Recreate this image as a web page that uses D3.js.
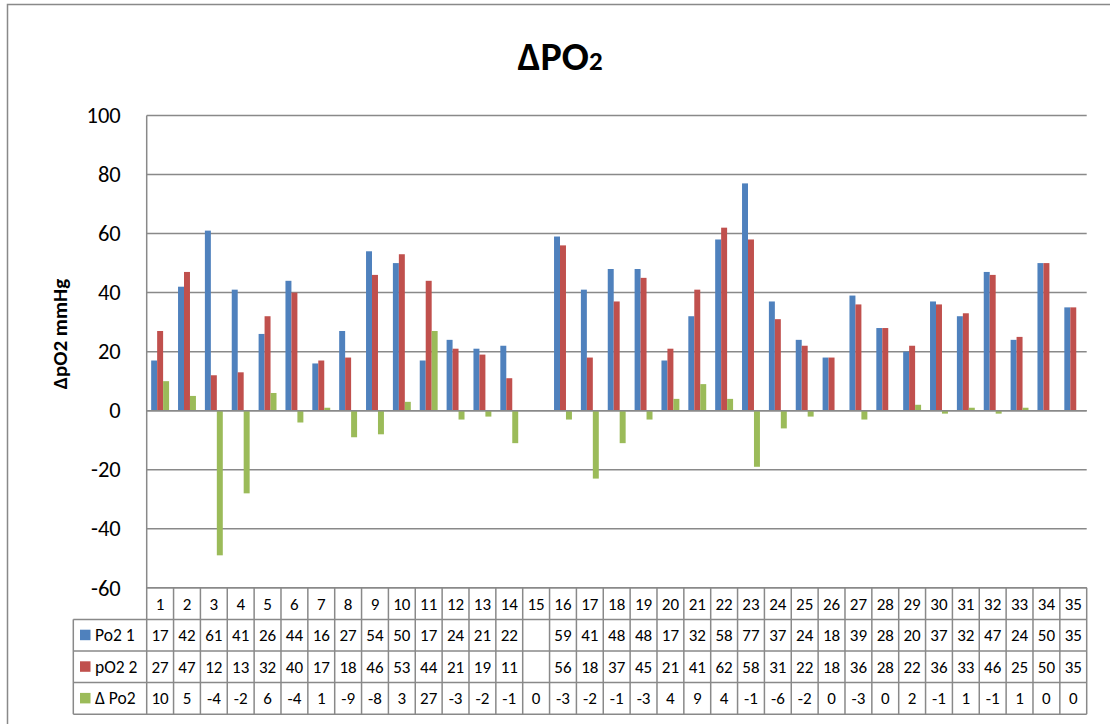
<!DOCTYPE html>
<html>
<head>
<meta charset="utf-8">
<script src="https://cdn.jsdelivr.net/npm/d3@7"></script>
<style>
  body { margin: 0; background: #fff; }
  text { font-family: Carlito, Lato, "Liberation Sans", sans-serif; fill: #000; }
</style>
</head>
<body>
<svg id="chart"></svg>
<script>
// data
let categories = d3.range(1, 36).map(String);
let seriesNames = ["Po2 1", "pO2 2", "Δ Po2"];
let seriesColors = ["#4F81BD", "#C0504D", "#9BBB59"];
let po2First = [17, 42, 61, 41, 26, 44, 16, 27, 54, 50, 17, 24, 21, 22, null, 59, 41, 48, 48, 17, 32, 58, 77, 37, 24, 18, 39, 28, 20, 37, 32, 47, 24, 50, 35];
let po2Second = [27, 47, 12, 13, 32, 40, 17, 18, 46, 53, 44, 21, 19, 11, null, 56, 18, 37, 45, 21, 41, 62, 58, 31, 22, 18, 36, 28, 22, 36, 33, 46, 25, 50, 35];
let deltaPo2 = [10, 5, -49, -28, 6, -4, 1, -9, -8, 3, 27, -3, -2, -11, 0, -3, -23, -11, -3, 4, 9, 4, -19, -6, -2, 0, -3, 0, 2, -1, 1, -1, 1, 0, 0];
let yTicks = [-60, -40, -20, 0, 20, 40, 60, 80, 100];

let seriesValues = [po2First, po2Second, deltaPo2];

let width = 1110,
    height = 724,
    plotLeft = 146.7,
    plotRight = 1086.7,
    plotTop = 115.5,
    plotBottom = 587.8,
    rowH = 31.6,
    legendLeft = 73.3,
    gridColor = "#898989";

let svg = d3.select("#chart").attr("width", width).attr("height", height);

// outer chart border
svg.append("rect")
    .attr("x", 7.5).attr("y", 4.5)
    .attr("width", 1200).attr("height", 1000)
    .attr("fill", "none").attr("stroke", gridColor).attr("stroke-width", 1.5);

let x0 = d3.scaleBand().domain(categories).range([plotLeft, plotRight]).padding(0);
let x1 = d3.scaleBand().domain(seriesNames).range([0, x0.bandwidth()])
    .paddingInner(0).paddingOuter(0.75);
let y = d3.scaleLinear().domain([-60, 100]).range([plotBottom, plotTop]);

// gridlines
svg.append("g")
    .selectAll("line")
    .data(yTicks)
    .enter().append("line")
    .attr("x1", plotLeft).attr("x2", plotRight)
    .attr("y1", d => y(d)).attr("y2", d => y(d))
    .attr("stroke", gridColor).attr("stroke-width", 1.5);

// y axis tick labels (plain hyphen minus, like Excel)
let yAxis = d3.axisLeft(y).tickValues(yTicks).tickSize(0).tickPadding(26)
    .tickFormat(d => String(d));
let yg = svg.append("g").attr("transform", "translate(" + plotLeft + ",0)").call(yAxis);
yg.select(".domain").remove();
yg.selectAll("text")
    .attr("font-size", 22.5)
    .style("font-family", "Carlito, Lato, 'Liberation Sans', sans-serif")
    .attr("fill", "#000");

// bars
let groups = svg.append("g")
    .selectAll("g")
    .data(categories)
    .enter().append("g")
    .attr("transform", d => "translate(" + x0(d) + ",0)");

groups.selectAll("rect")
    .data((d, i) => seriesNames.map((s, k) => ({ s: s, k: k, v: seriesValues[k][i] })))
    .enter().filter(d => d.v != null && d.v !== 0).append("rect")
    .attr("x", d => x1(d.s))
    .attr("width", x1.bandwidth())
    .attr("y", d => Math.min(y(d.v), y(0)))
    .attr("height", d => Math.abs(y(d.v) - y(0)))
    .attr("fill", d => seriesColors[d.k]);

// zero line on top of bars
svg.append("line")
    .attr("x1", plotLeft).attr("x2", plotRight)
    .attr("y1", y(0)).attr("y2", y(0))
    .attr("stroke", gridColor).attr("stroke-width", 1.5);

// data table below the plot
let table = svg.append("g");
let tableBottom = plotBottom + rowH * 4;

// vertical line at plot left, down to table bottom
table.append("line")
    .attr("x1", plotLeft).attr("x2", plotLeft)
    .attr("y1", plotTop).attr("y2", tableBottom)
    .attr("stroke", gridColor).attr("stroke-width", 1.5);

// horizontal rows
for (let r = 0; r <= 4; r++) {
    table.append("line")
        .attr("x1", r == 0 ? plotLeft : legendLeft).attr("x2", plotRight)
        .attr("y1", plotBottom + r * rowH).attr("y2", plotBottom + r * rowH)
        .attr("stroke", gridColor).attr("stroke-width", 1.5);
}
// legend column left edge
table.append("line")
    .attr("x1", legendLeft).attr("x2", legendLeft)
    .attr("y1", plotBottom + rowH).attr("y2", tableBottom)
    .attr("stroke", gridColor).attr("stroke-width", 1.5);

// column separators
table.selectAll(".colsep")
    .data(categories)
    .enter().append("line")
    .attr("class", "colsep")
    .attr("x1", d => x0(d) + x0.bandwidth()).attr("x2", d => x0(d) + x0.bandwidth())
    .attr("y1", plotBottom).attr("y2", tableBottom)
    .attr("stroke", gridColor).attr("stroke-width", 1.5);

// header row: category labels
table.selectAll(".cat")
    .data(categories)
    .enter().append("text")
    .attr("class", "cat")
    .attr("x", d => x0(d) + x0.bandwidth() / 2)
    .attr("y", plotBottom + rowH / 2 + 6)
    .attr("text-anchor", "middle")
    .attr("font-size", 17)
    .text(d => d);

// cell text; Excel drops characters that do not fit in the narrow cells
function cellText(v) {
    if (v == null) return "";
    let s = String(v);
    return s.length > 2 ? s.slice(0, 2) : s;
}

seriesNames.forEach((name, k) => {
    let rowY = plotBottom + rowH * (k + 1);
    table.append("rect")
        .attr("x", 80).attr("y", rowY + rowH / 2 - 5.5)
        .attr("width", 10.5).attr("height", 10.5)
        .attr("fill", seriesColors[k]);
    table.append("text")
        .attr("x", 95).attr("y", rowY + rowH / 2 + 6)
        .attr("font-size", 17.5)
        .text(name);
    table.selectAll(".v" + k)
        .data(seriesValues[k])
        .enter().append("text")
        .attr("class", "v" + k)
        .attr("x", (d, i) => x0(categories[i]) + x0.bandwidth() / 2)
        .attr("y", rowY + rowH / 2 + 6)
        .attr("text-anchor", "middle")
        .attr("font-size", 17)
        .text(d => cellText(d));
});

// title
let title = svg.append("text")
    .attr("x", 560).attr("y", 69.5)
    .attr("text-anchor", "middle")
    .attr("font-size", 40)
    .attr("font-weight", "bold");
title.append("tspan").text("ΔPO");
title.append("tspan").attr("font-size", 27).text("2");

// y axis title
svg.append("text")
    .attr("transform", "translate(67,334) rotate(-90)")
    .attr("text-anchor", "middle")
    .attr("font-size", 21)
    .attr("font-weight", "bold")
    .text("ΔpO2 mmHg");
</script>
</body>
</html>
